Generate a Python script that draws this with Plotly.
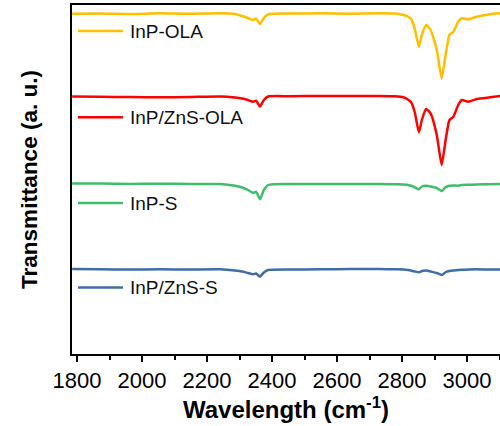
import plotly.graph_objects as go

# FTIR spectra (offset stacked, arbitrary units)
wavenumber = [1785, 1871, 1963, 2055, 2148, 2240, 2286, 2308, 2326, 2342, 2351, 2363,
              2375, 2388, 2455, 2548, 2640, 2732, 2778, 2804, 2818, 2830, 2840, 2852,
              2861, 2874, 2888, 2907, 2922, 2935, 2946, 2958, 2973, 2984, 3004, 3030,
              3071, 3102]

inp_ola = [340.3, 340.5, 340.0, 340.7, 340.2, 340.7, 340.0, 338.0, 336.0, 334.0, 335.5, 330.0,
           336.0, 339.7, 340.4, 340.7, 340.3, 340.8, 340.5, 339.0, 337.5, 334.0, 324.0, 307.3,
           319.0, 329.0, 324.0, 304.0, 275.7, 301.0, 319.0, 322.3, 332.3, 335.7, 334.7, 337.3,
           339.7, 340.7]

inp_zns_ola = [257.5, 257.2, 257.0, 256.7, 257.0, 257.5, 256.5, 255.5, 254.0, 252.3, 253.3, 247.5,
               254.0, 257.5, 257.8, 258.0, 258.0, 258.0, 257.7, 256.7, 254.5, 250.7, 240.7, 221.7,
               234.0, 245.0, 240.7, 219.0, 189.0, 215.7, 234.0, 237.3, 249.0, 254.0, 252.3, 255.0,
               256.7, 258.0]

inp_s = [170.5, 170.5, 170.0, 170.3, 170.0, 170.0, 168.3, 166.5, 164.0, 161.0, 162.3, 154.7,
         164.0, 169.0, 170.0, 170.0, 170.0, 170.0, 169.7, 169.5, 169.0, 168.0, 166.5, 164.7,
         167.5, 168.3, 167.5, 166.0, 163.0, 167.0, 168.3, 168.5, 168.3, 169.0, 169.2, 169.5,
         169.8, 170.0]

inp_zns_s = [85.0, 84.7, 84.5, 84.7, 84.5, 84.7, 83.5, 82.5, 81.0, 79.7, 80.5, 77.3,
             81.5, 84.0, 84.5, 84.7, 85.0, 85.0, 84.7, 84.5, 84.0, 83.3, 82.5, 81.7,
             83.0, 83.5, 82.5, 81.0, 79.0, 82.0, 83.0, 83.5, 84.0, 84.2, 84.5, 84.7,
             84.5, 84.5]

names = ["InP-OLA", "InP/ZnS-OLA", "InP-S", "InP/ZnS-S"]
series = [inp_ola, inp_zns_ola, inp_s, inp_zns_s]
colors = ["#FFBF00", "#FF0000", "#3DBE6A", "#3F6EA6"]
label_levels = [323, 236.7, 151, 66.5]

fig = go.Figure()
for name, vals, col in zip(names, series, colors):
    fig.add_trace(go.Scatter(
        x=wavenumber, y=vals, mode="lines", name=name,
        line=dict(color=col, width=2.5, shape="spline", smoothing=0.5),
        showlegend=False,
    ))

# in-plot legend: short line sample + label for each spectrum
for name, col, lev in zip(names, colors, label_levels):
    fig.add_shape(type="line", xref="paper", yref="y",
                  x0=0.014, x1=0.119, y0=lev, y1=lev,
                  line=dict(color=col, width=2.5))
    fig.add_annotation(xref="paper", yref="y", x=0.131, y=lev,
                       text=name, showarrow=False, xanchor="left", yanchor="middle",
                       font=dict(family="Liberation Sans, Arial", size=19, color="#111"))

fig.update_layout(
    width=500, height=426,
    margin=dict(l=72, r=0, t=5, b=72),
    plot_bgcolor="white", paper_bgcolor="white",
    font=dict(family="Liberation Sans, Arial", color="black"),
)
fig.update_xaxes(
    range=[1784.6, 3101.5],
    tickmode="array", tickvals=[1800, 2000, 2200, 2400, 2600, 2800, 3000],
    ticks="outside", ticklen=6, tickwidth=2, tickcolor="black",
    minor=dict(dtick=100, tick0=1800, ticks="outside", ticklen=4, tickwidth=2, tickcolor="black"),
    showline=True, linecolor="black", linewidth=2, mirror=True,
    showgrid=False, zeroline=False,
    tickfont=dict(size=22, color="black"),
    title=dict(text="<b>Wavelength (cm<sup>-1</sup>)</b>", font=dict(size=24, color="black"), standoff=6),
)
fig.update_yaxes(
    range=[0, 349],
    showticklabels=False, ticks="",
    showline=True, linecolor="black", linewidth=2, mirror=False,
    showgrid=False, zeroline=False,
    title=dict(text="<b>Transmittance (a. u.)</b>", font=dict(size=22.5, color="black"), standoff=26),
)

fig.write_html("out.html")
